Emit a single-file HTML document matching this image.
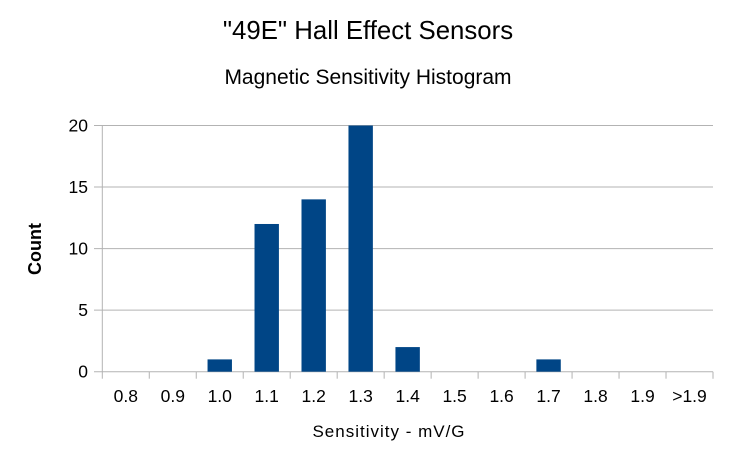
<!DOCTYPE html>
<html><head><meta charset="utf-8"><style>
body{margin:0;background:#fff;}
svg{display:block;font-family:"Liberation Sans",sans-serif;}
</style></head><body>
<svg id="chart" width="735" height="458">
<text x="368" y="39" text-anchor="middle" font-size="25.8">"49E" Hall Effect Sensors</text>
<text x="368" y="84" text-anchor="middle" font-size="21">Magnetic Sensitivity Histogram</text>
<text x="389" y="437" text-anchor="middle" font-size="17" letter-spacing="1">Sensitivity - mV/G</text>
<text transform="translate(41,249) rotate(-90)" text-anchor="middle" font-size="18" font-weight="bold">Count</text>
<g id="grid"></g><g id="bars"></g><g id="axes"></g>
</svg>
<script>
const categories=["0.8","0.9","1.0","1.1","1.2","1.3","1.4","1.5","1.6","1.7","1.8","1.9",">1.9"];
const counts=[0,0,1,12,14,20,2,0,0,1,0,0,0];
const yTicks=[0,5,10,15,20];
const NS="http://www.w3.org/2000/svg";
const L=102.3,R=713,T=125.5,B=371.7,yMax=20;
const step=(R-L)/categories.length;
const xs=i=>L+step*i;
const ys=v=>B-(v/yMax)*(B-T);
function mk(tag,attrs,parent,text){const e=document.createElementNS(NS,tag);for(const k in attrs)e.setAttribute(k,attrs[k]);if(text!==undefined)e.textContent=text;document.getElementById(parent).appendChild(e);return e;}
yTicks.forEach(v=>{
 const g=mk('line',{x1:94,x2:R,y1:ys(v),y2:ys(v),stroke:'#b3b3b3','stroke-width':1},'grid');
 
 
 const t=mk('text',{x:88,y:ys(v)+6,'text-anchor':'end','font-size':17.5},'axes',String(v));
 
 
});
const bw=24.4;
counts.forEach((c,i)=>{
 if(c>0){
 const r=mk('rect',{x:xs(i)+step/2-bw/2,y:ys(c),width:bw,height:B-ys(c),fill:'#004586'},'bars');
 
 
 }
});
mk('line',{x1:L,x2:L,y1:T,y2:B,stroke:'#b3b3b3'},'axes');
for(let i=0;i<=categories.length;i++){
 const tk=mk('line',{x1:xs(i),x2:xs(i),y1:B,y2:B+7,stroke:'#b3b3b3'},'axes');
 
 
}
categories.forEach((c,i)=>{
 const t=mk('text',{x:xs(i)+step/2,y:402,'text-anchor':'middle','font-size':17.5},'axes',c);
 
 
});
</script>
</body></html>
